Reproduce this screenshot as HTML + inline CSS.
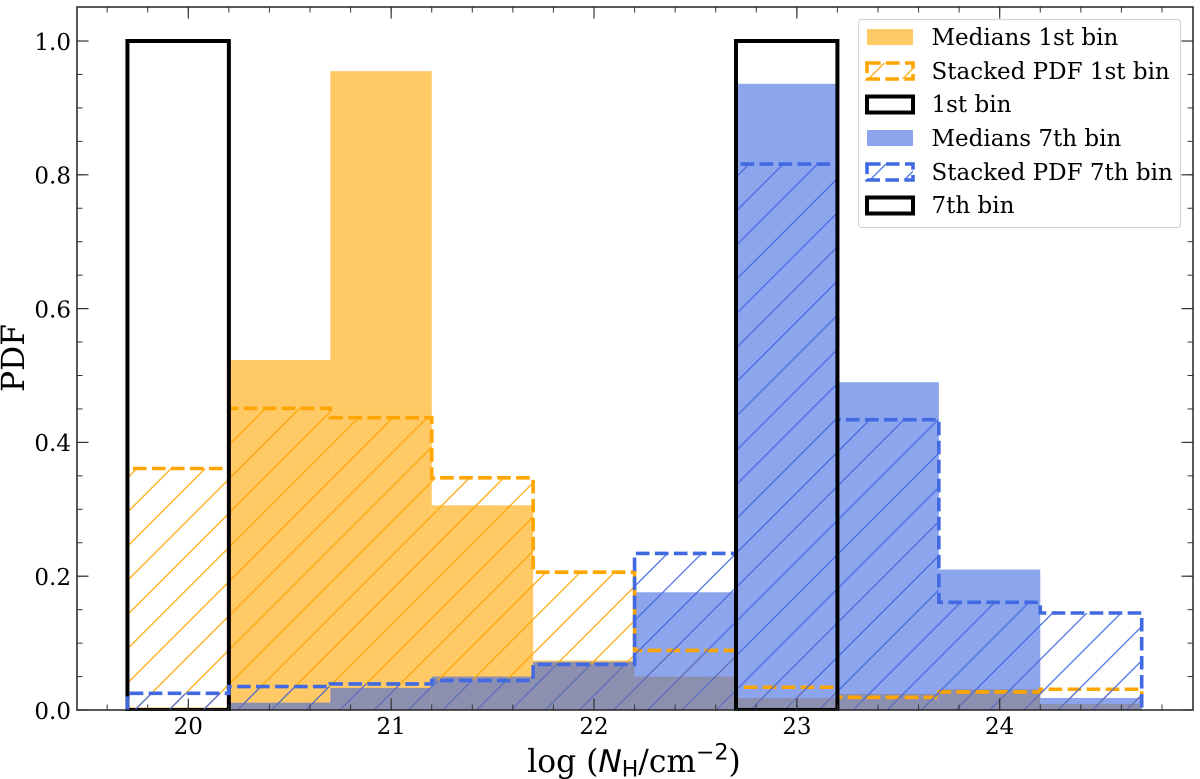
<!DOCTYPE html>
<html>
<head>
<meta charset="utf-8">
<style>
html,body{margin:0;padding:0;background:#fff;}
svg{display:block;}
text{font-family:"DejaVu Serif","Liberation Serif",serif;fill:#000;}
</style>
</head>
<body>
<svg id="chart" xmlns="http://www.w3.org/2000/svg" width="1200" height="779" viewBox="0 0 1200 779">
  <defs>
    <pattern id="hatch-orange" patternUnits="userSpaceOnUse" x="24" y="0" width="34.2" height="34.2">
      <path d="M-5 5L5 -5M0 34.2L34.2 0M29.2 39.2L39.2 29.2" stroke="#ffa500" stroke-width="1.2" fill="none"/>
    </pattern>
    <pattern id="hatch-blue" patternUnits="userSpaceOnUse" x="24" y="0" width="34.2" height="34.2">
      <path d="M-5 5L5 -5M0 34.2L34.2 0M29.2 39.2L39.2 29.2" stroke="#4169e1" stroke-width="1.2" fill="none"/>
    </pattern>
    <clipPath id="plot-clip"><rect x="77" y="7" width="1116" height="704"/></clipPath>
  </defs>
  <g id="plot" clip-path="url(#plot-clip)"></g>
  <g id="axes"></g>
  <g id="legend">
    <rect x="858.5" y="19.5" width="322" height="208" rx="3" fill="#fff" fill-opacity="0.85" stroke="#d6d6d6" stroke-width="1.2"/>
    <g>
      <rect x="867" y="29" width="46" height="16" fill="#ffa500" fill-opacity="0.6"/>
      <text x="931.5" y="45" font-size="23">Medians 1st bin</text>
    </g>
    <g>
      <rect x="867" y="63" width="46" height="16" fill="url(#hatch-orange)" stroke="#ffa500" stroke-width="3.6" stroke-dasharray="13.6 5.4"/>
      <text x="931.5" y="79" font-size="23">Stacked PDF 1st bin</text>
    </g>
    <g>
      <rect x="867" y="96.5" width="46" height="16" fill="none" stroke="#000" stroke-width="4"/>
      <text x="931.5" y="112" font-size="23">1st bin</text>
    </g>
    <g>
      <rect x="867" y="130" width="46" height="16" fill="#4169e1" fill-opacity="0.6"/>
      <text x="931.5" y="146" font-size="23">Medians 7th bin</text>
    </g>
    <g>
      <rect x="867" y="164" width="46" height="16" fill="url(#hatch-blue)" stroke="#4169e1" stroke-width="3.6" stroke-dasharray="13.6 5.4"/>
      <text x="931.5" y="180" font-size="23">Stacked PDF 7th bin</text>
    </g>
    <g>
      <rect x="867" y="197.5" width="46" height="16" fill="none" stroke="#000" stroke-width="4"/>
      <text x="931.5" y="213" font-size="23">7th bin</text>
    </g>
  </g>
  <text transform="translate(24,358) rotate(-90)" text-anchor="middle" font-size="31.3">PDF</text>
  <text x="634" y="772" text-anchor="middle" font-size="31.3">log (<tspan font-family="'DejaVu Sans',sans-serif" font-style="italic">N</tspan><tspan font-family="'DejaVu Sans',sans-serif" font-size="22" dy="4.5">H</tspan><tspan dy="-4.5">/cm</tspan><tspan font-family="'DejaVu Sans',sans-serif" font-size="22" dy="-12.5">−2</tspan><tspan dy="12.5">)</tspan></text>
</svg>
<script>
var binEdges = [19.7, 20.2, 20.7, 21.2, 21.7, 22.2, 22.7, 23.2, 23.7, 24.2, 24.7];
var mediansFirst = [0.004, 0.523, 0.955, 0.306, 0.074, 0.05, 0.018, 0.024, 0.031, 0.009];
var mediansSeventh = [0, 0.011, 0.033, 0.05, 0.072, 0.176, 0.936, 0.49, 0.21, 0.018];
var stackedFirst = [0.361, 0.451, 0.437, 0.347, 0.206, 0.089, 0.034, 0.019, 0.027, 0.031];
var stackedSeventh = [0.025, 0.035, 0.039, 0.044, 0.068, 0.234, 0.816, 0.434, 0.161, 0.145];
var binFirst = [1, 0, 0, 0, 0, 0, 0, 0, 0, 0];
var binSeventh = [0, 0, 0, 0, 0, 0, 1, 0, 0, 0];
var xTickValues = [20, 21, 22, 23, 24];
var xTickLabels = ['20', '21', '22', '23', '24'];
var yTickValues = [0, 0.2, 0.4, 0.6, 0.8, 1];
var yTickLabels = ['0.0', '0.2', '0.4', '0.6', '0.8', '1.0'];
var xMinorStep = 0.2;
var yMinorStep = 0.05;

var NS = 'http://www.w3.org/2000/svg';
var plotLeft = 77, plotRight = 1193, plotTop = 7, plotBottom = 710;
function xScale(v) { return 188.3 + (v - 20) * 202.85; }
function yScale(v) { return 710 - v * 669; }
function make(tag, attrs, parent) {
  var el = document.createElementNS(NS, tag);
  for (var k in attrs) { el.setAttribute(k, attrs[k]); }
  parent.appendChild(el);
  return el;
}
var plot = document.getElementById('plot');
var axes = document.getElementById('axes');

function drawBars(values, color, name) {
  values.forEach(function (v, i) {
    if (v <= 0) { return; }
    var r = make('rect', {
      x: xScale(binEdges[i]),
      y: yScale(v),
      width: xScale(binEdges[i + 1]) - xScale(binEdges[i]),
      height: yScale(0) - yScale(v),
      fill: color,
      'fill-opacity': 0.6
    }, plot);
    
    
  });
}
function stepPath(values) {
  var d = 'M' + xScale(binEdges[0]) + ' ' + yScale(0);
  values.forEach(function (v, i) {
    d += 'L' + xScale(binEdges[i]) + ' ' + yScale(v);
    d += 'L' + xScale(binEdges[i + 1]) + ' ' + yScale(v);
  });
  d += 'L' + xScale(binEdges[values.length]) + ' ' + yScale(0);
  return d;
}
function drawStacked(values, color, hatch, name) {
  var area = make('path', { d: stepPath(values) + 'Z', fill: 'url(#' + hatch + ')', stroke: 'none' }, plot);
  
  
  var line = make('path', { d: stepPath(values), fill: 'none', stroke: color, 'stroke-width': 3.6, 'stroke-dasharray': '13.6 5.4', 'stroke-linejoin': 'miter' }, plot);
  
  
}
function drawOutline(values, name) {
  var first = values.findIndex(function (v) { return v > 0; });
  var v = values[first];
  var d = 'M' + xScale(binEdges[first]) + ' ' + yScale(0) +
    'L' + xScale(binEdges[first]) + ' ' + yScale(v) +
    'L' + xScale(binEdges[first + 1]) + ' ' + yScale(v) +
    'L' + xScale(binEdges[first + 1]) + ' ' + yScale(0) + 'Z';
  var o = make('path', { d: d, fill: 'none', stroke: '#000', 'stroke-width': 4, 'stroke-linejoin': 'miter' }, plot);
  
  
}

drawBars(mediansFirst, '#ffa500', 'bar-medians-1st');
drawBars(mediansSeventh, '#4169e1', 'bar-medians-7th');
drawStacked(stackedFirst, '#ffa500', 'hatch-orange', 'stacked-pdf-1st');
drawOutline(binFirst, 'outline-1st-bin');
drawStacked(stackedSeventh, '#4169e1', 'hatch-blue', 'stacked-pdf-7th');
drawOutline(binSeventh, 'outline-7th-bin');

var tickColor = '#333';
function tickX(v, len, width) {
  var x = xScale(v);
  make('line', { x1: x, x2: x, y1: plotBottom, y2: plotBottom - len, stroke: tickColor, 'stroke-width': width }, axes);
  make('line', { x1: x, x2: x, y1: plotTop, y2: plotTop + len, stroke: tickColor, 'stroke-width': width }, axes);
}
function tickY(v, len, width) {
  var y = yScale(v);
  make('line', { x1: plotLeft, x2: plotLeft + len, y1: y, y2: y, stroke: tickColor, 'stroke-width': width }, axes);
  make('line', { x1: plotRight, x2: plotRight - len, y1: y, y2: y, stroke: tickColor, 'stroke-width': width }, axes);
}
for (var xm = 19.6; xm < 25.2; xm += xMinorStep) {
  var xr = Math.round(xm * 10) / 10;
  if (xScale(xr) > plotLeft && xScale(xr) < plotRight) { tickX(xr, 5.5, 1); }
}
for (var ym = 0; ym < 1.05; ym += yMinorStep) {
  tickY(Math.round(ym * 100) / 100, 5.5, 1);
}
xTickValues.forEach(function (v, i) {
  tickX(v, 11.5, 1.2);
  var t = make('text', { x: xScale(v), y: 734, 'text-anchor': 'middle', 'font-size': 23 }, axes);
  t.textContent = xTickLabels[i];
  
  
});
yTickValues.forEach(function (v, i) {
  tickY(v, 11.5, 1.2);
  var t = make('text', { x: 71, y: yScale(v) + 8.8, 'text-anchor': 'end', 'font-size': 23 }, axes);
  t.textContent = yTickLabels[i];
  
  
});
var frame = make('rect', { x: plotLeft, y: plotTop, width: plotRight - plotLeft, height: plotBottom - plotTop, fill: 'none', stroke: '#222', 'stroke-width': 1.5 }, axes);


</script>
</body>
</html>
